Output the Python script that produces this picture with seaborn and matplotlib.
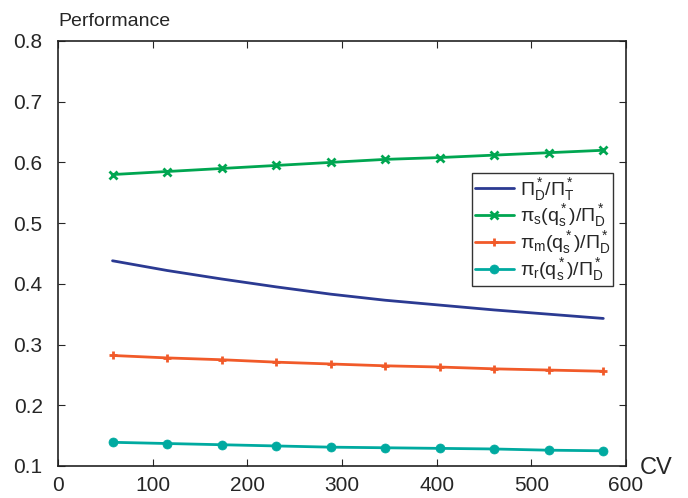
import numpy as np
import pandas as pd
import seaborn as sns
import matplotlib.pyplot as plt

# data
cv = [57.6, 115.2, 172.8, 230.4, 288.0, 345.6, 403.2, 460.8, 518.4, 576.0]
ratio_total = [0.438, 0.422, 0.408, 0.395, 0.383, 0.373, 0.365, 0.357, 0.350, 0.343]
ratio_s = [0.580, 0.585, 0.590, 0.595, 0.600, 0.605, 0.608, 0.612, 0.616, 0.620]
ratio_m = [0.282, 0.278, 0.275, 0.271, 0.268, 0.265, 0.263, 0.260, 0.258, 0.256]
ratio_r = [0.139, 0.137, 0.135, 0.133, 0.131, 0.130, 0.129, 0.128, 0.126, 0.125]

labels = [r'$\Pi^*_\mathrm{D}/\Pi^*_\mathrm{T}$',
          r'$\pi_\mathrm{s}(\mathrm{q}^*_\mathrm{s})/\Pi^*_\mathrm{D}$',
          r'$\pi_\mathrm{m}(\mathrm{q}^*_\mathrm{s})/\Pi^*_\mathrm{D}$',
          r'$\pi_\mathrm{r}(\mathrm{q}^*_\mathrm{s})/\Pi^*_\mathrm{D}$']
series = [ratio_total, ratio_s, ratio_m, ratio_r]
colors = ['#2b3a92', '#00a651', '#f15a29', '#00aaa0']
markers = [None, 'x', '+', 'o']

sns.set_style('ticks')
plt.rcParams['font.family'] = ['Liberation Sans', 'DejaVu Sans']
plt.rcParams['mathtext.fontset'] = 'custom'
plt.rcParams['mathtext.rm'] = 'Liberation Sans'
plt.rcParams['mathtext.it'] = 'Liberation Sans'

fig = plt.figure(figsize=(6.88, 4.98), dpi=100)
ax = fig.add_axes([0.0843, 0.0643, 0.8256, 0.8534])

for lab, vals, c, m in zip(labels, series, colors, markers):
    df = pd.DataFrame({'CV': cv, 'val': vals})
    sns.lineplot(data=df, x='CV', y='val', ax=ax, color=c, marker=m, lw=2,
                 markersize=6 if m != 'o' else 6.5, mew=2 if m != 'o' else 0.5,
                 mec=c, label=lab)

ax.set_xlim(0, 600)
ax.set_ylim(0.1, 0.8)
ax.set_xticks(np.arange(0, 601, 100))
ax.set_yticks(np.round(np.arange(0.1, 0.81, 0.1), 1))
ax.set_xlabel('')
ax.set_ylabel('')
ax.tick_params(direction='in', top=True, right=True, labelsize=15, length=5)
ax.tick_params(axis='y', pad=11)
ax.tick_params(axis='x', pad=7)
for s in ax.spines.values():
    s.set_linewidth(1.2)
    s.set_color('#222222')

ax.text(0.0, 1.025, 'Performance', transform=ax.transAxes, fontsize=14, ha='left', va='bottom')
ax.text(1.025, -0.005, 'CV', transform=ax.transAxes, fontsize=17, ha='left', va='center')

leg = ax.legend(loc='upper right', bbox_to_anchor=(0.977, 0.69), fontsize=14,
                frameon=True, fancybox=False, edgecolor='black', handlelength=2.0,
                borderpad=0.15, labelspacing=0.0, handletextpad=0.3, borderaxespad=0)
leg.get_frame().set_linewidth(1.0)

fig.savefig('out.png', dpi=100)
